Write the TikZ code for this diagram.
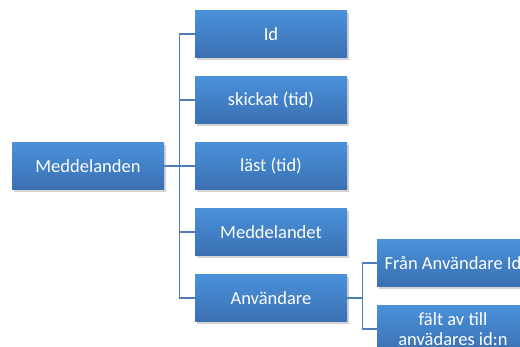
\documentclass[tikz,border=0pt]{standalone}
\usepackage{fontspec}
\setmainfont{Carlito}
\usetikzlibrary{positioning,shadows}
\definecolor{boxtop}{RGB}{74, 145, 218}
\definecolor{boxbottom}{RGB}{58, 112, 178}
\definecolor{linkblue}{RGB}{79, 125, 181}

\begin{document}
\begin{tikzpicture}[
    x=1pt, y=-1pt,
    field/.style={rectangle, top color=boxtop, bottom color=boxbottom, draw=none,
                  minimum width=152pt, minimum height=47pt, text=white,
                  font=\fontsize{18.5}{20}\selectfont, align=center,
                  drop shadow={shadow xshift=1.5pt, shadow yshift=-2.5pt, opacity=0.35}},
    link/.style={draw=linkblue, line width=1.3pt}
]
    \useasboundingbox (0,0) rectangle (520,347);
    \clip (0,0) rectangle (520,347);

    \node[field] (msg)    at (88,166)  {Meddelanden};
    \node[field] (id)     at (271,34)  {Id};
    \node[field] (sent)   at (271,100) {skickat (tid)};
    \node[field] (read)   at (271,166) {läst (tid)};
    \node[field] (body)   at (271,232) {Meddelandet};
    \node[field] (user)   at (271,298) {Användare};
    \node[field] (from)   at (453,263) {Från Användare Id};
    \node[field] (to)     at (453,329) {fält av till\\anvädares id:n};

    \draw[link] (msg.east) -- ++(15,0) coordinate (fork);
    \foreach \n in {id,sent,read,body,user}
        \draw[link] (fork) |- (\n.west);

    \draw[link] (user.east) -- ++(15,0) coordinate (fork2);
    \foreach \n in {from,to}
        \draw[link] (fork2) |- (\n.west);
\end{tikzpicture}
\end{document}
